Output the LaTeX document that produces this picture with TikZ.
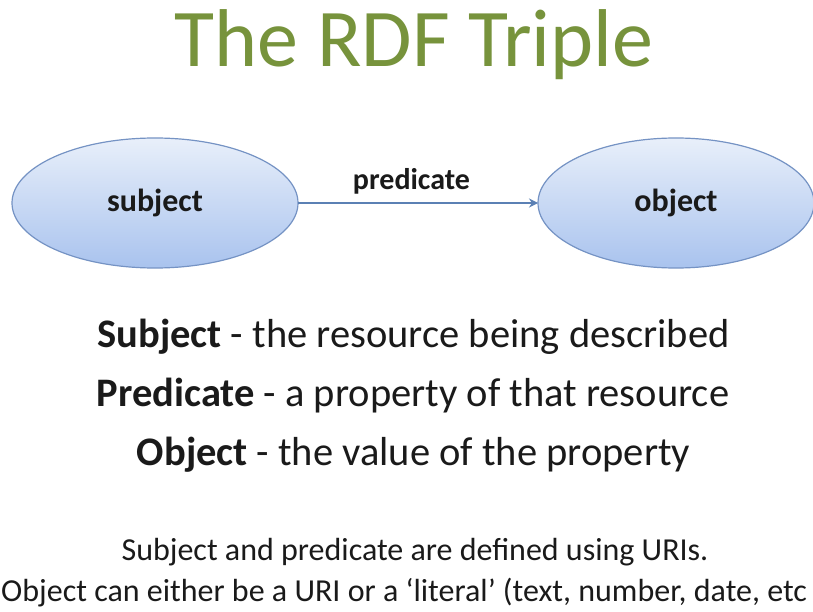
\documentclass[tikz,border=0pt]{standalone}
\usepackage{fontspec}
\setmainfont{Carlito}
\usetikzlibrary{shapes.geometric,arrows.meta}
\definecolor{titlegreen}{HTML}{77933C}
\definecolor{ellline}{HTML}{7593C4}
\definecolor{elltop}{HTML}{E8EFFA}
\definecolor{ellbot}{HTML}{A9C3EE}
\definecolor{arrowblue}{HTML}{5B80B4}
\definecolor{txt}{HTML}{1A1A1A}
\tikzset{
  oval/.style={ellipse, draw=ellline, line width=1.2pt, top color=elltop, bottom color=ellbot, outer sep=0pt, inner sep=0pt, font=\bfseries\fontsize{32}{36}\selectfont, text=txt},
  conn/.style={draw=arrowblue, line width=2pt, -{Stealth[length=9pt,width=9pt]}},
  bodyline/.style={font=\fontsize{40.5}{46}\selectfont, text=txt, anchor=base},
  noteline/.style={font=\fontsize{32}{36}\selectfont, text=txt, anchor=base}
}
\begin{document}
\begin{tikzpicture}[x=1pt,y=-1pt]
\useasboundingbox (0,0) rectangle (813,612);
\fill[white] (0,0) rectangle (813,612);
\node[anchor=base, text=titlegreen, font=\fontsize{82}{88}\selectfont] (title) at (414,67) {The RDF Triple};
\node[oval, minimum width=286pt, minimum height=130pt] (subj) at (155,203) {subject};
\node[oval, minimum width=276pt, minimum height=130pt] (obj) at (676,203) {object};
\draw[conn] (subj.east) -- (obj.west);
\node[anchor=base, font=\bfseries\fontsize{30}{34}\selectfont, text=txt] (pred) at (411.5,190) {predicate};
\node[bodyline] (l1) at (413.5,347) {\textbf{Subject} - the resource being described};
\node[bodyline] (l2) at (413,406) {\textbf{Predicate} - a property of that resource};
\node[bodyline] (l3) at (413.5,465) {\textbf{Object} - the value of the property};
\node[noteline] (n1) at (415,560) {Subject and predicate are defined using URIs.};
\node[noteline, anchor=base west, inner sep=0pt] (n2) at (1,601) {Object can either be a URI or a ‘literal’ (text, number, date, etc};
\end{tikzpicture}
\end{document}
